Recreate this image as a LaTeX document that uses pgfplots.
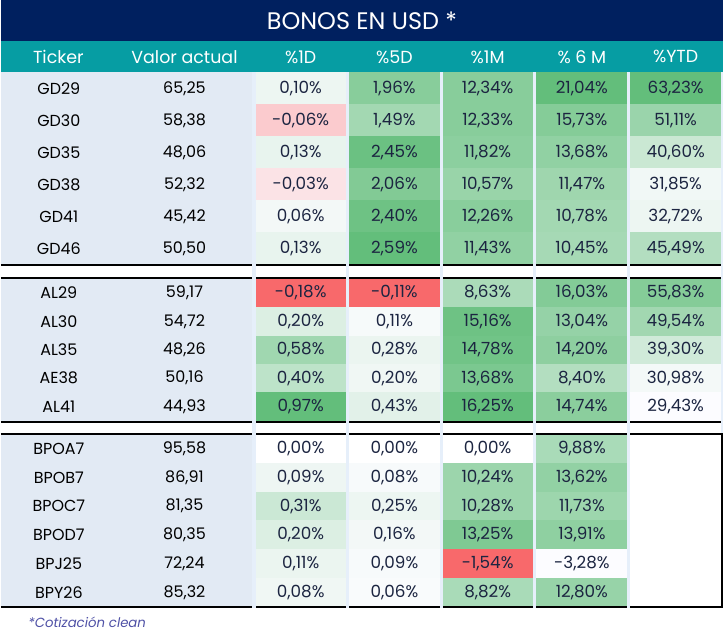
\documentclass[border=0pt]{standalone}
\usepackage{pgfplots}
\pgfplotsset{compat=1.18}
\usepackage{pgfplotstable}
\usepackage{fontspec}
\setmainfont{Poppins}
\definecolor{G}{HTML}{63BE7B}
\definecolor{W}{HTML}{FCFCFF}
\definecolor{R}{HTML}{F8696B}
\definecolor{navy}{HTML}{00205F}
\definecolor{teal2}{HTML}{069DA3}
\definecolor{leftbg}{HTML}{E2EAF4}
\definecolor{strip}{HTML}{E6EFFA}
\definecolor{valtxt}{HTML}{1C2541}
\definecolor{foot}{HTML}{4F51A6}

\pgfplotstableread{
y ticker valor d1 d5 m1 m6
88.55 GD29 65,25 0,10 1,96 12,34 21,04
120.65 GD30 58,38 -0,06 1,49 12,33 15,73
152.75 GD35 48,06 0,13 2,45 11,82 13,68
184.85 GD38 52,32 -0,03 2,06 10,57 11,47
216.95 GD41 45,42 0,06 2,40 12,26 10,78
249.05 GD46 50,50 0,13 2,59 11,43 10,45
293.75 AL29 59,17 -0,18 -0,11 8,63 16,03
322.25 AL30 54,72 0,20 0,11 15,16 13,04
350.75 AL35 48,26 0,58 0,28 14,78 14,20
379.25 AE38 50,16 0,40 0,20 13,68 8,40
407.75 AL41 44,93 0,97 0,43 16,25 14,74
449.9 BPOA7 95,58 0,00 0,00 0,00 9,88
478.7 BPOB7 86,91 0,09 0,08 10,24 13,62
507.5 BPOC7 81,35 0,31 0,25 10,28 11,73
536.3 BPOD7 80,35 0,20 0,16 13,25 13,91
565.1 BPJ25 72,24 0,11 0,09 -1,54 -3,28
593.9 BPY26 85,32 0,08 0,06 8,82 12,80
}\tblA

\pgfplotstableread{
y ytd
88.55 63,23
120.65 51,11
152.75 40,60
184.85 31,85
216.95 32,72
249.05 45,49
293.75 55,83
322.25 49,54
350.75 39,30
379.25 30,98
407.75 29,43
}\tblB

\newcommand\rect[5]{\addplot[draw=none,fill=#5,forget plot] coordinates {(#1,#2) (#3,#2) (#3,#4) (#1,#4)} --cycle;}
\newcommand\crow[7]{\rect{252}{#1}{347.7}{#2}{#3}\rect{347.7}{#1}{441.5}{#2}{#4}\rect{441.5}{#1}{535.3}{#2}{#5}\rect{535.3}{#1}{629.6}{#2}{#6}\rect{629.6}{#1}{724}{#2}{#7}}
\newcommand\blackrule[1]{\addplot[black,line width=2pt,forget plot] coordinates {(0,#1) (724,#1)};}

\pgfplotsset{
  txt/.style={only marks, mark=*, mark size=0pt, mark options={draw=none,fill=none},
    point meta=explicit symbolic, nodes near coords, nodes near coords align=center,
    every node near coord/.append style={font=\fontsize{16}{18}\selectfont, text=#1, inner sep=0pt}},
  pct/.style={txt=valtxt, nodes near coords={\pgfplotspointmeta\%},
    every node near coord/.append style={font=\fontsize{16.8}{18}\selectfont}}
}

\begin{document}
\begin{tikzpicture}
\begin{axis}[scale only axis, width=724pt, height=639pt,
  xmin=0, xmax=724, ymin=0, ymax=639, y dir=reverse, hide axis, clip=false]
% background
\rect{0}{0}{724}{639}{white}
\rect{0}{0}{724}{40.7}{navy}
\rect{0}{40.7}{724}{72.5}{teal2}
% left area
\rect{0}{72.5}{252}{265.1}{leftbg}
\rect{0}{279.5}{252}{422}{leftbg}
\rect{0}{435.5}{252}{608.3}{leftbg}
% cells group 1
\crow{72.5}{104.6}{G!10!W}{G!76!W}{G!76!W}{G!100!W}{G!100!W}
\crow{104.6}{136.7}{R!33!W}{G!58!W}{G!76!W}{G!78!W}{G!64!W}
\crow{136.7}{168.8}{G!13!W}{G!95!W}{G!73!W}{G!70!W}{G!33!W}
\crow{168.8}{200.9}{R!17!W}{G!80!W}{G!65!W}{G!61!W}{G!7!W}
\crow{200.9}{233.0}{G!6!W}{G!93!W}{G!75!W}{G!58!W}{G!10!W}
\crow{233.0}{265.1}{G!13!W}{G!100!W}{G!70!W}{G!56!W}{G!48!W}
% group 2
\crow{279.5}{308}{R!100!W}{R!100!W}{G!53!W}{G!79!W}{G!78!W}
\crow{308}{336.5}{G!21!W}{G!4!W}{G!93!W}{G!67!W}{G!59!W}
\crow{336.5}{365}{G!60!W}{G!11!W}{G!91!W}{G!72!W}{G!29!W}
\crow{365}{393.5}{G!41!W}{G!8!W}{G!84!W}{G!48!W}{G!5!W}
\crow{393.5}{422}{G!100!W}{G!17!W}{G!100!W}{G!74!W}{W}
% group 3
\crow{435.5}{464.3}{white}{white}{white}{G!54!W}{white}
\crow{464.3}{493.1}{G!9!W}{G!3!W}{G!63!W}{G!69!W}{white}
\crow{493.1}{521.9}{G!32!W}{G!10!W}{G!63!W}{G!62!W}{white}
\crow{521.9}{550.7}{G!21!W}{G!6!W}{G!82!W}{G!71!W}{white}
\crow{550.7}{579.5}{G!11!W}{G!3!W}{R!100!W}{W}{white}
\crow{579.5}{608.3}{G!8!W}{G!2!W}{G!54!W}{G!66!W}{white}
% black rules
\blackrule{265.7}
\blackrule{278.5}
\blackrule{422.7}
\blackrule{435}
\blackrule{608.7}
\addplot[black,line width=2.2pt,forget plot] coordinates {(722.6,435) (722.6,609.8)};
% column strips
\rect{252}{72.5}{255.3}{609.8}{strip}
\rect{346.2}{72.5}{349.2}{609.8}{strip}
\rect{440}{72.5}{443}{609.8}{strip}
\rect{533.8}{72.5}{536.9}{609.8}{strip}
\rect{628}{72.5}{631.2}{609.8}{strip}
\rect{722}{72.5}{724}{434}{strip}
% texts
\addplot[txt=black] table[x expr=58, y=y, meta=ticker] {\tblA};
\addplot[txt=black] table[x expr=184, y=y, meta=valor] {\tblA};
\addplot[pct] table[x expr=300.5, y=y, meta=d1] {\tblA};
\addplot[pct] table[x expr=394.5, y=y, meta=d5] {\tblA};
\addplot[pct] table[x expr=488, y=y, meta=m1] {\tblA};
\addplot[pct] table[x expr=582.5, y=y, meta=m6] {\tblA};
\addplot[pct] table[x expr=676.5, y=y, meta=ytd] {\tblB};
% title and headers
\node[text=white, font=\fontsize{24}{28}\selectfont] at (362,21) {BONOS EN USD *};
\begin{scope}[every node/.style={text=white, font=\fontsize{17.5}{20}\selectfont}]
\node at (57.5,57) {Ticker};
\node at (184,57) {Valor actual};
\node at (300.5,57) {\%1D};
\node at (394.5,57) {\%5D};
\node at (488,57) {\%1M};
\node at (582.5,57) {\% 6 M};
\node at (676.5,57) {\%YTD};
\end{scope}
\node[anchor=west, text=foot, font=\fontsize{13.3}{15}\selectfont\itshape] at (24,624) {*Cotización clean};
\end{axis}
\end{tikzpicture}
\end{document}
